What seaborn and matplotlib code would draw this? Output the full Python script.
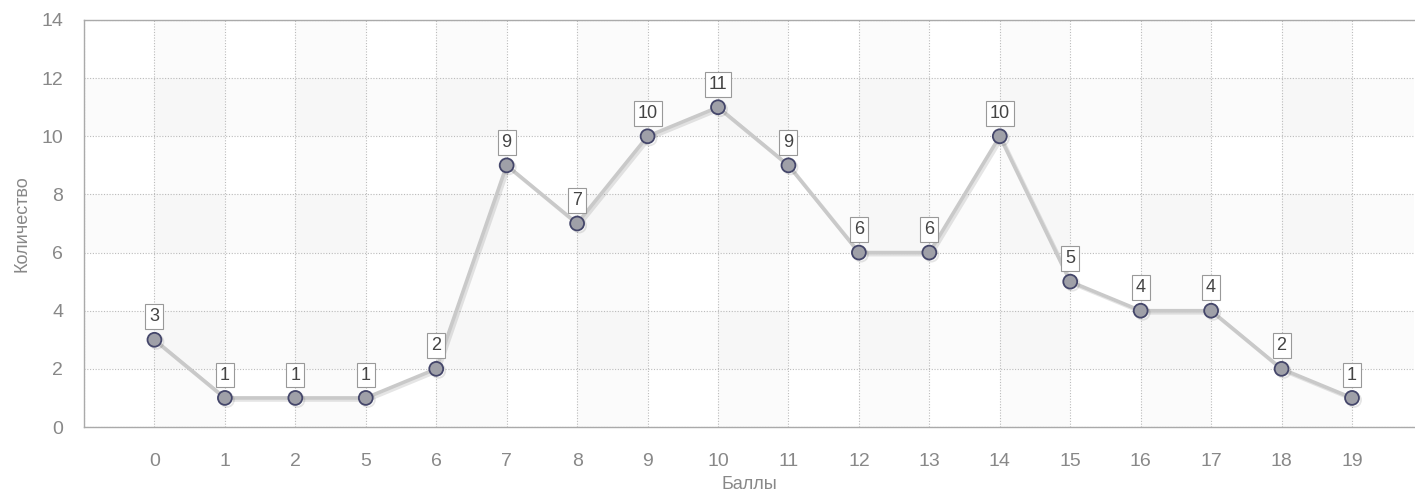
import matplotlib
matplotlib.use("Agg")
import matplotlib.pyplot as plt
import matplotlib.patheffects as pe
import seaborn as sns
import pandas as pd

categories = ["0", "1", "2", "5", "6", "7", "8", "9", "10", "11", "12", "13", "14", "15", "16", "17", "18", "19"]
counts = [3, 1, 1, 1, 2, 9, 7, 10, 11, 9, 6, 6, 10, 5, 4, 4, 2, 1]
y_ticks = [0, 2, 4, 6, 8, 10, 12, 14]
x_label = "Баллы"
y_label = "Количество"

sns.set_style("white")
plt.rcParams["font.family"] = ["Liberation Sans", "DejaVu Sans"]

df = pd.DataFrame({"pos": range(len(categories)), "cat": categories, "count": counts})

fig = plt.figure(figsize=(14.15, 4.97), dpi=100)
ax = fig.add_axes([84 / 1415, 1 - 427 / 497, (1414 - 84) / 1415, (427 - 20) / 497])

# subtle alternating bands
for y0 in range(0, 14, 4):
    ax.axhspan(y0 + 2, y0 + 4, color="#000000", alpha=0.015, lw=0, zorder=0)
for i in range(-1, len(categories), 2):
    ax.axvspan(i + 1, i + 2, color="#000000", alpha=0.015, lw=0, zorder=0)

sns.lineplot(data=df, x="pos", y="count", ax=ax, color="#c9c9c9", linewidth=2.6,
             marker="o", markersize=10, markerfacecolor="#9fa0a8",
             markeredgecolor="#44466a", markeredgewidth=1.3, zorder=5,
             path_effects=[pe.SimpleLineShadow(offset=(1.5, -1.5), shadow_color="#000000", alpha=0.10),
                           pe.Normal()])

for x, v in zip(df["pos"], df["count"]):
    ax.annotate(str(v), (x, v), xytext=(0, 16.5), textcoords="offset points",
                ha="center", va="center", fontsize=13, color="#444444", zorder=6,
                bbox=dict(boxstyle="square,pad=0.22", fc="white", ec="#999999", lw=0.8))

ax.set_xlim(-1, 17.88)
ax.set_ylim(0, 14)
ax.set_xticks(list(range(-1, len(categories))))
ax.set_xticklabels([""] + categories)
ax.set_yticks(y_ticks)

ax.grid(True, axis="both", color="#bbbbbb", linestyle=(0, (1, 1.5)), linewidth=0.8)
ax.set_axisbelow(True)
for s in ["left", "bottom", "top"]:
    ax.spines[s].set_color("#aaaaaa")
    ax.spines[s].set_linewidth(1)
ax.spines["right"].set_visible(False)

ax.tick_params(axis="both", colors="#aaaaaa", length=9, width=1, labelcolor="#888888", labelsize=14)
ax.tick_params(axis="x", pad=10)
ax.tick_params(axis="y", pad=6)

ax.set_xlabel(x_label, fontsize=13, color="#888888", labelpad=4)
ax.set_ylabel(y_label, fontsize=13, color="#888888", labelpad=8)

fig.savefig("out.png", dpi=100)
